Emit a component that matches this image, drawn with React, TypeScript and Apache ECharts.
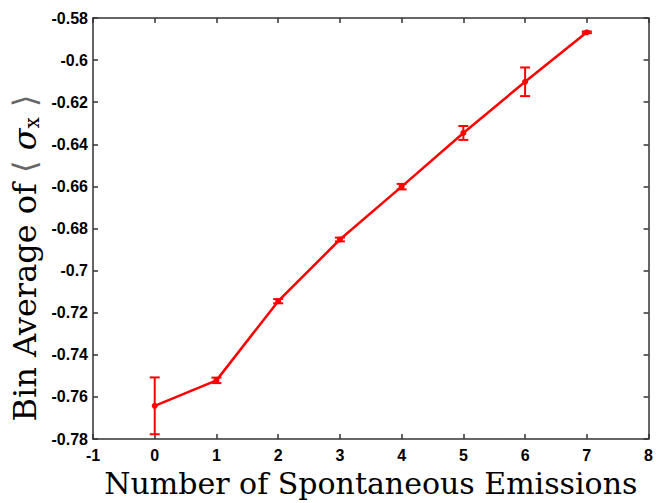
import React, { useEffect, useRef } from "react";
import * as echarts from "echarts";

const emissions = [0, 1, 2, 3, 4, 5, 6, 7];
const binAverage = [-0.7642, -0.7521, -0.7145, -0.6852, -0.6601, -0.6346, -0.6103, -0.5868];
const errorSize = [0.0135, 0.0013, 0.001, 0.0009, 0.0013, 0.0033, 0.0068, 0.0004];

const X_MIN = -1;
const X_MAX = 8;
const Y_MIN = -0.78;
const Y_MAX = -0.58;

const X_TITLE = "Number of Spontaneous Emissions";
const Y_TITLE_PREFIX = "Bin Average of ";

export default function App() {
  const ref = useRef<HTMLDivElement>(null);
  useEffect(() => {
    if (!ref.current) return;
    const chart = echarts.init(ref.current, null, { renderer: "svg" });
    const lineData = emissions.map((x, i) => [x, binAverage[i]]);
    const errData = emissions.map((x, i) => [x, binAverage[i] - errorSize[i], binAverage[i] + errorSize[i]]);
    const axisColor = "#333333";
    const serif = "DejaVu Serif";
    const tickLabel = {
      color: "#000",
      fontFamily: "Liberation Sans",
      fontWeight: "bold" as const,
      fontSize: 16,
    };
    const lineStyle = { color: axisColor, width: 1.5 };
    chart.setOption({
      animation: false,
      backgroundColor: "#fff",
      grid: { left: 93, right: 4, top: 18, bottom: 57, containLabel: false },
      graphic: [
        {
          type: "text",
          x: 25,
          y: 258,
          rotation: Math.PI / 2,
          style: {
            text: `{t|${Y_TITLE_PREFIX}}{b|⟨ }{s|σ}{sub|x}{b| ⟩}`,
            align: "center",
            verticalAlign: "middle",
            fill: "#000",
            rich: {
              t: { fontFamily: serif, fontSize: 32, fill: "#000" },
              b: { fontFamily: serif, fontSize: 32, fill: "#666" },
              s: { fontFamily: serif, fontSize: 32, fontStyle: "italic", fill: "#000" },
              sub: { fontFamily: serif, fontSize: 20, fill: "#000", verticalAlign: "bottom", padding: [14, 0, 0, 0] },
            },
          },
        },
      ],
      xAxis: [
        {
          type: "value",
          min: X_MIN,
          max: X_MAX,
          interval: 1,
          position: "bottom",
          name: X_TITLE,
          nameLocation: "middle",
          nameGap: 20,
          nameTextStyle: { color: "#000", fontFamily: serif, fontSize: 30, verticalAlign: "top" },
          axisLine: { show: true, onZero: false, lineStyle },
          axisTick: { show: true, inside: true, length: 5, lineStyle },
          axisLabel: { ...tickLabel, margin: 8 },
          splitLine: { show: false },
        },
        {
          type: "value",
          min: X_MIN,
          max: X_MAX,
          interval: 1,
          position: "top",
          axisLine: { show: true, onZero: false, lineStyle },
          axisTick: { show: true, inside: true, length: 5, lineStyle },
          axisLabel: { show: false },
          splitLine: { show: false },
        },
      ],
      yAxis: [
        {
          type: "value",
          min: Y_MIN,
          max: Y_MAX,
          interval: 0.02,
          position: "left",
          axisLine: { show: true, onZero: false, lineStyle },
          axisTick: { show: true, inside: true, length: 5, lineStyle },
          axisLabel: {
            ...tickLabel,
            margin: 5,
            formatter: (v: number) => String(parseFloat(v.toFixed(2))),
          },
          splitLine: { show: false },
        },
        {
          type: "value",
          min: Y_MIN,
          max: Y_MAX,
          interval: 0.02,
          position: "right",
          axisLine: { show: true, onZero: false, lineStyle },
          axisTick: { show: true, inside: true, length: 5, lineStyle },
          axisLabel: { show: false },
          splitLine: { show: false },
        },
      ],
      series: [
        {
          type: "line",
          data: lineData,
          xAxisIndex: 0,
          yAxisIndex: 0,
          symbol: "circle",
          symbolSize: 6,
          itemStyle: { color: "#ff0000" },
          lineStyle: { color: "#ff0000", width: 2.5 },
          z: 3,
        },
        {
          type: "custom",
          data: errData,
          xAxisIndex: 0,
          yAxisIndex: 0,
          z: 4,
          renderItem: (params: any, api: any) => {
            const x = api.value(0);
            const lo = api.value(1);
            const hi = api.value(2);
            const pHi = api.coord([x, hi]);
            const pLo = api.coord([x, lo]);
            const hw = 5;
            const style = { stroke: "#ff0000", lineWidth: 2 };
            return {
              type: "group",
              children: [
                { type: "line", shape: { x1: pHi[0], y1: pHi[1], x2: pLo[0], y2: pLo[1] }, style },
                { type: "line", shape: { x1: pHi[0] - hw, y1: pHi[1], x2: pHi[0] + hw, y2: pHi[1] }, style },
                { type: "line", shape: { x1: pLo[0] - hw, y1: pLo[1], x2: pLo[0] + hw, y2: pLo[1] }, style },
              ],
            };
          },
        },
      ],
    });
    return () => chart.dispose();
  }, []);
  return (
    <div
      ref={ref}
      style={{ position: "absolute", left: 0, top: 0, width: 656, height: 503 }}
    />
  );
}
